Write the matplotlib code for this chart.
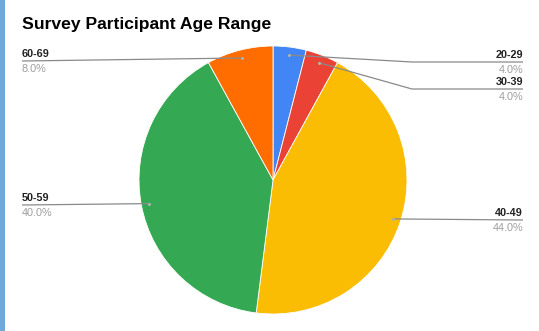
import numpy as np
import matplotlib.pyplot as plt

plt.rcParams['font.family'] = ['Liberation Sans', 'DejaVu Sans']

# data
ages = ['20-29', '30-39', '40-49', '50-59', '60-69']
shares = [4.0, 4.0, 44.0, 40.0, 8.0]
colors = ['#4285f4', '#ea4335', '#fbbc04', '#34a853', '#ff6d01']

W, H = 539, 331
fig = plt.figure(figsize=(W / 100, H / 100), dpi=100)
ax = fig.add_axes([0, 0, 1, 1])

# left border strip
ax.add_patch(plt.Rectangle((0, 0), 5, H, color='#6fa8dc', lw=0))

cx, cy, r = 273, 180, 134
# y axis gets inverted below, so counterclock=True draws clockwise on screen
wedges, _ = ax.pie(shares, colors=colors, startangle=-90, counterclock=True,
                   center=(cx, cy), radius=r, frame=True,
                   wedgeprops=dict(edgecolor='white', linewidth=0.6))
ax.set_xlim(0, W)
ax.set_ylim(H, 0)
ax.set_aspect('equal')
ax.axis('off')

ax.text(22, 24, 'Survey Participant Age Range', fontsize=12.6, fontweight='bold',
        color='#000000', va='center', ha='left')

# label placement: (side, label line y, elbow x)
layout = {
    '20-29': ('R', 62, 412),
    '30-39': ('R', 89, 412),
    '40-49': ('R', 220, None),
    '50-59': ('L', 205, None),
    '60-69': ('L', 61, None),
}

total = sum(shares)
start = 0.0
for age, val in zip(ages, shares):
    mid = (start + val / 2) / total * 2 * np.pi
    start += val
    dx = cx + 0.94 * r * np.sin(mid)
    dy = cy - 0.94 * r * np.cos(mid)
    side, ly, ex = layout[age]
    if side == 'R':
        xs = [dx] + ([ex] if ex else []) + [523]
        ys = [dy] + ([ly] if ex else []) + [ly]
        tx, ha = 523, 'right'
    else:
        xs = [22, dx]
        ys = [ly, dy]
        tx, ha = 22, 'left'
    ax.plot(xs, ys, color='#8a8a8a', lw=0.9, solid_capstyle='butt')
    ax.plot(dx, dy, 'o', ms=2.2, color='#b0b0b0', mec='none')
    ax.text(tx, ly - 2, age, fontsize=7.8, fontweight='bold', color='#222222',
            ha=ha, va='bottom')
    ax.text(tx, ly + 3, '%.1f%%' % val, fontsize=7.8, color='#9e9e9e',
            ha=ha, va='top')

fig.savefig('out.png', dpi=100)
